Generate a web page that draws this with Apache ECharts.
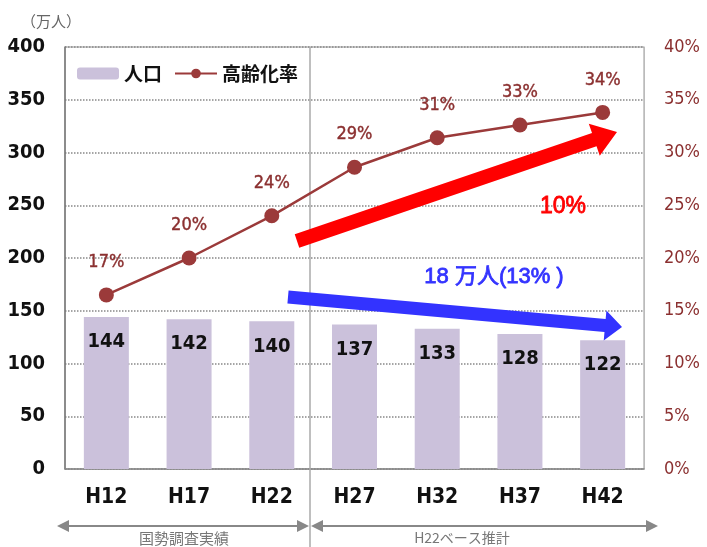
<!DOCTYPE html>
<html>
<head>
<meta charset="utf-8">
<script src="https://cdn.jsdelivr.net/npm/echarts@6/dist/echarts.min.js"></script>
<style>
  html, body { margin: 0; padding: 0; background: #fff; }
  #main { width: 707px; height: 547px; }
</style>
</head>
<body>
<div id="main"></div>
<script>
// 年次（平成）
const categories = ['H12', 'H17', 'H22', 'H27', 'H32', 'H37', 'H42']
// 人口（万人）
const population = [144, 142, 140, 137, 133, 128, 122]
// 高齢化率（%）
const agingRate = [16.5, 20, 24, 28.6, 31.4, 32.6, 33.8]
const leftTicks = { min: 0, max: 400, interval: 50 }
const rightTicks = { min: 0, max: 40, interval: 5 }

const numFont = '"DejaVu Sans Condensed", "Liberation Sans Narrow", "Liberation Sans", sans-serif'
const jpFont = '"Noto Sans CJK JP", sans-serif'
const rateColor = '#9b3a3a'

// 矢印の多角形を作る
function arrow(x1, y1, x2, y2, shaft, headL, headW) {
    const dx = x2 - x1, dy = y2 - y1
    const len = Math.sqrt(dx * dx + dy * dy)
    const ux = dx / len, uy = dy / len
    const nx = -uy, ny = ux
    const bx = x2 - ux * headL, by = y2 - uy * headL
    return [
        [x1 + nx * shaft / 2, y1 + ny * shaft / 2],
        [bx + nx * shaft / 2, by + ny * shaft / 2],
        [bx + nx * headW, by + ny * headW],
        [x2, y2],
        [bx - nx * headW, by - ny * headW],
        [bx - nx * shaft / 2, by - ny * shaft / 2],
        [x1 - nx * shaft / 2, y1 - ny * shaft / 2]
    ]
}

const myChart = echarts.init(document.getElementById('main'))
myChart.setOption({
    animation: false,
    grid: {
        left: 65, right: 63, top: 47, bottom: 78,
        show: true, borderColor: '#999', borderWidth: 1
    },
    legend: {
        left: 72, top: 59,
        itemWidth: 42, itemHeight: 12, itemGap: 12,
        textStyle: { fontFamily: jpFont, fontSize: 19, fontWeight: 'bold', color: '#111' },
        data: ['人口', '高齢化率']
    },
    xAxis: {
        type: 'category',
        data: categories,
        axisLine: { lineStyle: { color: '#888', width: 1.5 } },
        axisTick: { inside: true, length: 5, lineStyle: { color: '#555' } },
        axisLabel: {
            margin: 18, fontFamily: numFont, fontSize: 21, fontWeight: 'bold', color: '#111'
        }
    },
    yAxis: [
        {
            type: 'value',
            name: '（万人）',
            nameLocation: 'end',
            nameGap: 18,
            nameTextStyle: { fontFamily: jpFont, fontSize: 15, color: '#666', align: 'right', padding: [0, -16, 0, 0] },
            min: leftTicks.min, max: leftTicks.max, interval: leftTicks.interval,
            axisLine: { show: true, lineStyle: { color: '#777', width: 1.5 } },
            axisTick: { show: false },
            axisLabel: { margin: 20, fontFamily: numFont, fontSize: 20, fontWeight: 'bold', color: '#111' },
            splitLine: { lineStyle: { type: 'dotted', color: '#888', width: 1.5 } }
        },
        {
            type: 'value',
            min: rightTicks.min, max: rightTicks.max, interval: rightTicks.interval,
            axisLine: { show: true, lineStyle: { color: '#bbb' } },
            axisTick: { show: false },
            axisLabel: {
                margin: 20, align: 'left', fontFamily: numFont, fontSize: 18, color: '#8b3030',
                formatter: '{value}%'
            },
            splitLine: { show: false }
        }
    ],
    series: [
        {
            name: '人口',
            type: 'bar',
            yAxisIndex: 0,
            barWidth: 45,
            itemStyle: { color: '#cbc1db' },
            data: population,
            label: {
                show: true, position: 'insideTop', distance: 15,
                fontFamily: numFont, fontSize: 20, fontWeight: 'bold', color: '#111'
            },
            z: 2
        },
        {
            name: '高齢化率',
            type: 'line',
            yAxisIndex: 1,
            data: agingRate,
            symbol: 'circle',
            symbolSize: 15,
            lineStyle: { color: rateColor, width: 2.5 },
            itemStyle: { color: rateColor },
            label: {
                show: true, position: 'top', distance: 16,
                fontFamily: numFont, fontSize: 18, color: '#8b3030',
                textBorderColor: '#8b3030', textBorderWidth: 0.4,
                formatter: p => Math.round(p.value) + '%'
            },
            z: 3
        }
    ],
    graphic: [
        // 実績／推計の区切り線
        { type: 'line', shape: { x1: 310, y1: 47, x2: 310, y2: 547 }, style: { stroke: '#aaa', lineWidth: 1.5 }, z: 1 },
        // 下の両矢印
        { type: 'line', shape: { x1: 66, y1: 526, x2: 300, y2: 526 }, style: { stroke: '#888', lineWidth: 2 } },
        { type: 'polygon', shape: { points: [[57, 526], [69, 520], [69, 532]] }, style: { fill: '#888' } },
        { type: 'polygon', shape: { points: [[309, 526], [297, 520], [297, 532]] }, style: { fill: '#888' } },
        { type: 'line', shape: { x1: 320, y1: 526, x2: 648, y2: 526 }, style: { stroke: '#888', lineWidth: 2 } },
        { type: 'polygon', shape: { points: [[311, 526], [323, 520], [323, 532]] }, style: { fill: '#888' } },
        { type: 'polygon', shape: { points: [[658, 526], [646, 520], [646, 532]] }, style: { fill: '#888' } },
        {
            type: 'text', x: 184, y: 538,
            style: { text: '国勢調査実績', font: '15px "Noto Sans CJK JP"', fill: '#777', align: 'center', verticalAlign: 'middle' }
        },
        {
            type: 'text', x: 462, y: 538,
            style: { text: 'H22ベース推計', font: '14px "Noto Sans CJK JP"', fill: '#777', align: 'center', verticalAlign: 'middle' }
        },
        // 赤矢印（高齢化率 +10%）
        { type: 'polygon', shape: { points: arrow(297, 241, 617, 132, 14, 24, 17) }, style: { fill: '#ff0000' }, z: 10 },
        {
            type: 'text', x: 563, y: 207,
            style: {
                text: '10%', font: '23px "Liberation Sans", Arial, sans-serif', fill: '#ff0000',
                stroke: '#ff0000', lineWidth: 0.8, align: 'center', verticalAlign: 'middle'
            },
            z: 10
        },
        // 青矢印（人口 -18万人）
        { type: 'polygon', shape: { points: arrow(288, 297, 622, 327, 13, 17, 15) }, style: { fill: '#3333ff' }, z: 10 },
        {
            type: 'text', x: 494, y: 277,
            style: {
                text: '18 万人(13% )', font: '22px "Liberation Sans", "Noto Sans CJK JP", sans-serif', fill: '#3333ff',
                stroke: '#3333ff', lineWidth: 0.8, align: 'center', verticalAlign: 'middle'
            },
            z: 10
        }
    ]
})
window.addEventListener('resize', () => {
    myChart.resize()
})
</script>
</body>
</html>
